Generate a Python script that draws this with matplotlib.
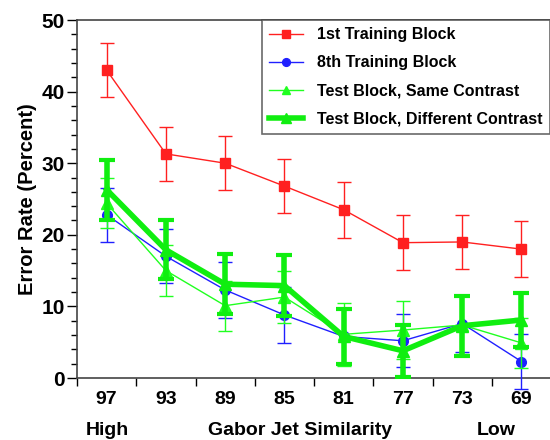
import matplotlib
matplotlib.use("Agg")
import matplotlib.pyplot as plt
from matplotlib.lines import Line2D
import numpy as np

plt.rcParams['font.family'] = ['Liberation Sans', 'DejaVu Sans']
plt.rcParams['font.weight'] = 'bold'

similarity = ["97", "93", "89", "85", "81", "77", "73", "69"]

first_mean = [43.0, 31.3, 30.0, 26.8, 23.5, 18.9, 19.0, 18.0]
first_err = [3.8, 3.8, 3.8, 3.8, 3.9, 3.8, 3.8, 3.9]

eighth_mean = [22.8, 17.0, 12.3, 8.8, 5.8, 5.2, 7.6, 2.3]
eighth_err = [3.8, 3.8, 3.9, 3.9, 4.0, 3.7, 3.9, 3.8]

same_mean = [24.4, 15.0, 10.1, 11.3, 6.1, 6.7, 7.4, 4.9]
same_err = [3.5, 3.6, 3.5, 3.6, 4.4, 4.0, 4.0, 3.5]

diff_mean = [26.3, 17.9, 13.1, 12.9, 5.8, 3.8, 7.3, 8.1]
diff_err = [4.2, 4.1, 4.2, 4.3, 3.8, 3.6, 4.2, 3.8]

labels = ['1st Training Block', '8th Training Block',
          'Test Block, Same Contrast', 'Test Block, Different Contrast']

fig = plt.figure(figsize=(5.5, 4.4), dpi=100)
ax = fig.add_axes([77/550, 1 - 378/440, 1.0 - 77/550 + 0.002, (378 - 20)/440])

x = np.arange(len(similarity))

styles = [
    dict(color='#ff2020', lw=1, marker='s', ms=7.5, capsize=5, elinewidth=1, capthick=1),
    dict(color='#2020ff', lw=1, marker='o', ms=7, capsize=5, elinewidth=1, capthick=1),
    dict(color='#20ff20', lw=1, marker='^', ms=8, capsize=5, elinewidth=1, capthick=1),
    dict(color='#10ee10', lw=4, marker='^', ms=9, capsize=6, elinewidth=4, capthick=3),
]
series = [(first_mean, first_err), (eighth_mean, eighth_err),
          (same_mean, same_err), (diff_mean, diff_err)]

handles = []
for i, ((m, e), st) in enumerate(zip(series, styles)):
    ax.errorbar(x, m, yerr=e, zorder=2 + i, clip_on=(i != 1), **st)
    handles.append(Line2D([], [], color=st['color'], lw=st['lw'], marker=st['marker'],
                          ms=st['ms'] * 0.8))

ax.set_xlim(-0.5, 7.5)
ax.set_ylim(0, 50)
ax.set_yticks([0, 10, 20, 30, 40, 50])
ax.set_yticks(np.arange(0, 50, 2), minor=True)
ax.set_xticks(x)
ax.set_xticklabels(similarity)
ax.set_xticks(np.arange(-0.5, 7.5, 1.0), minor=True)
ax.tick_params(axis='x', which='major', length=0, labelsize=14, pad=9)
ax.tick_params(axis='x', which='minor', length=6, width=1, direction='out')
ax.tick_params(axis='y', which='major', length=7, width=1, labelsize=15, pad=2)
ax.tick_params(axis='y', which='minor', length=4, width=1)
for lab in ax.get_xticklabels() + ax.get_yticklabels():
    lab.set_fontweight('bold')

ax.spines['right'].set_visible(False)
for s in ['left', 'bottom', 'top']:
    ax.spines[s].set_color('#444444')
    ax.spines[s].set_linewidth(1.2)

ax.set_ylabel('Error Rate (Percent)', fontsize=14.5, fontweight='bold', labelpad=3)

fig.text(107/550, 1 - 430/440, 'High', ha='center', va='center', fontsize=14, fontweight='bold')
fig.text(300/550, 1 - 430/440, 'Gabor Jet Similarity', ha='center', va='center', fontsize=14, fontweight='bold')
fig.text(496/550, 1 - 430/440, 'Low', ha='center', va='center', fontsize=14, fontweight='bold')

leg = ax.legend(handles, labels, loc='upper right', bbox_to_anchor=(1 - 1/473, 1.0),
                fontsize=11.5, frameon=True, fancybox=False, borderaxespad=0,
                handlelength=2.1, labelspacing=0.82, borderpad=0.45, handletextpad=0.9,
                handleheight=0.7)
leg._legend_box.sep = 0
leg.get_frame().set_edgecolor('#444444')
leg.get_frame().set_linewidth(1.2)
for t in leg.get_texts():
    t.set_fontweight('bold')

fig.savefig('out.png', dpi=100)
